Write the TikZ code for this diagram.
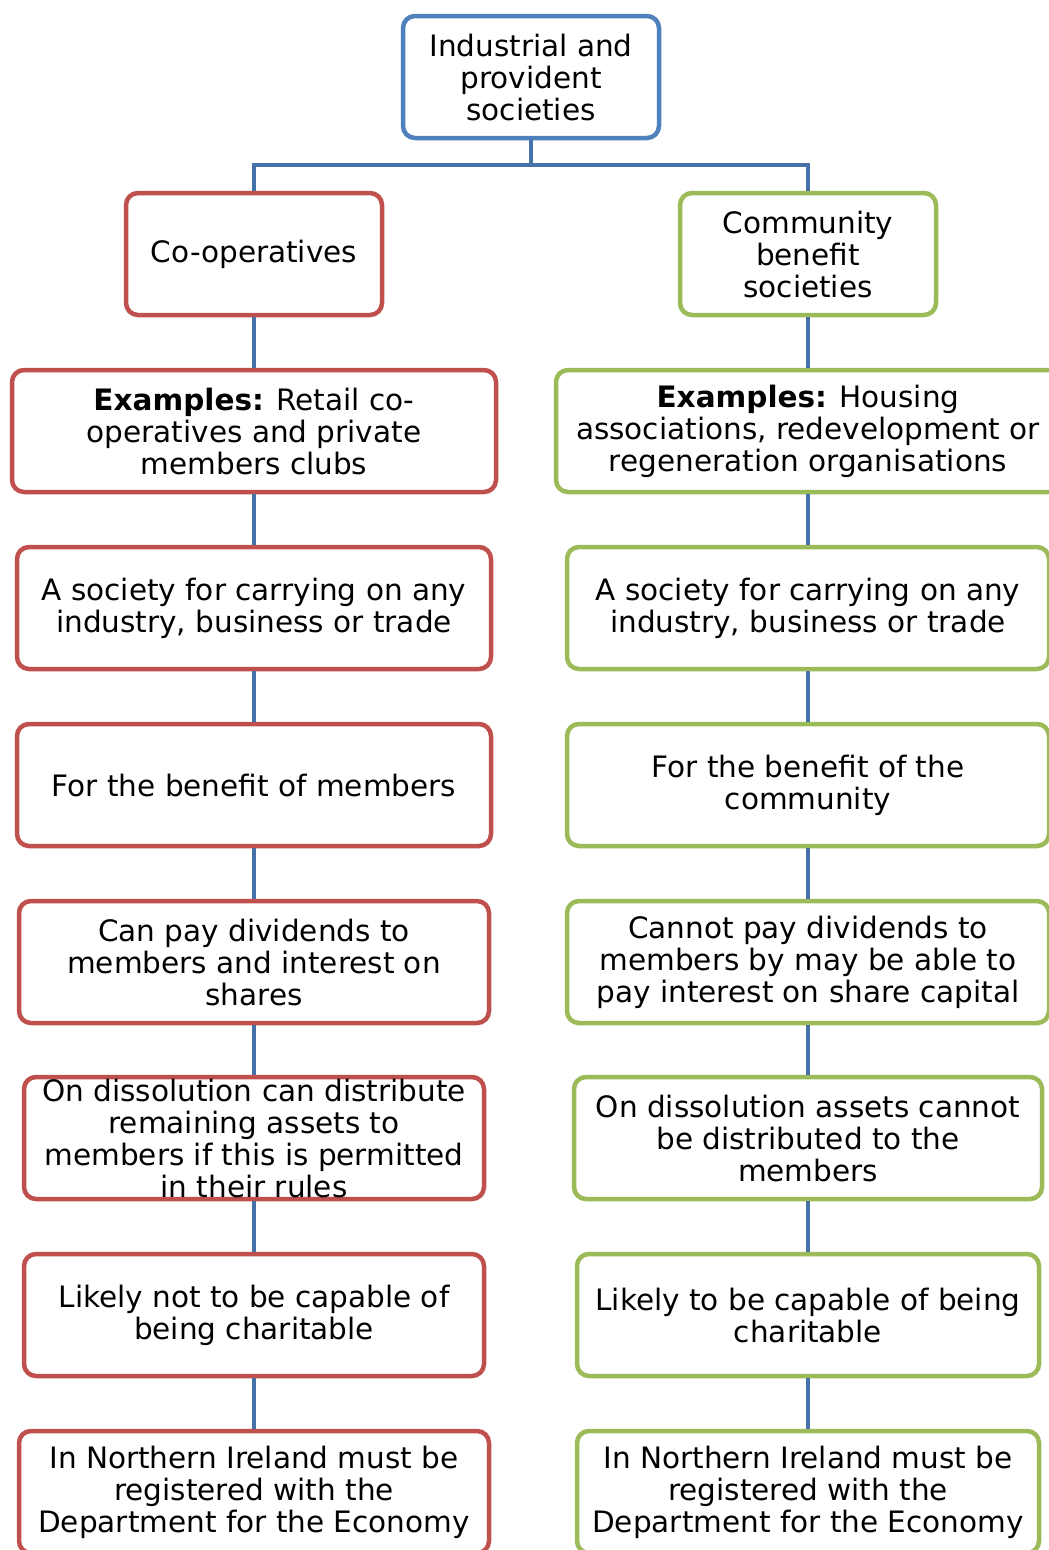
\documentclass[tikz,border=0pt]{standalone}
\usepackage{fontspec}
\setmainfont{DejaVu Sans}
\definecolor{topblue}{HTML}{4F81BD}
\definecolor{linkblue}{HTML}{4672A8}
\definecolor{coopred}{HTML}{C0504D}
\definecolor{cbsgreen}{HTML}{9BBB59}
\tikzset{
  box/.style={rectangle, rounded corners=12pt, line width=4.5pt, fill=white,
    align=center, inner sep=0pt, font=\fontsize{29.5}{32}\selectfont,
    minimum height=122pt},
  link/.style={draw=linkblue, line width=4.5pt},
}
\begin{document}
\begin{tikzpicture}[x=1pt,y=-1pt]
\clip (0,0) rectangle (1049,1550);
\fill[white] (0,0) rectangle (1049,1550);

% root
\node[box, draw=topblue, minimum width=256pt] (top) at (531,77) {Industrial and\\provident\\societies};

% co-operatives column
\node[box, draw=coopred, minimum width=256pt] (l1) at (254,254) {Co-operatives};
\node[box, draw=coopred, minimum width=484pt] (l2) at (254,431) {\textbf{Examples:} Retail co-\\operatives and private\\members clubs};
\node[box, draw=coopred, minimum width=474pt] (l3) at (254,608) {A society for carrying on any\\industry, business or trade};
\node[box, draw=coopred, minimum width=474pt] (l4) at (254,785) {For the benefit of members};
\node[box, draw=coopred, minimum width=470pt] (l5) at (254,962) {Can pay dividends to\\members and interest on\\shares};
\node[box, draw=coopred, minimum width=460pt] (l6) at (254,1138) {On dissolution can distribute\\remaining assets to\\members if this is permitted\\in their rules};
\node[box, draw=coopred, minimum width=460pt] (l7) at (254,1315) {Likely not to be capable of\\being charitable};
\node[box, draw=coopred, minimum width=470pt] (l8) at (254,1492) {In Northern Ireland must be\\registered with the\\Department for the Economy};

% community benefit column
\node[box, draw=cbsgreen, minimum width=256pt] (r1) at (808,254) {Community\\benefit\\societies};
\node[box, draw=cbsgreen, minimum width=504pt] (r2) at (808,431) {\textbf{Examples:} Housing\\associations, redevelopment or\\regeneration organisations};
\node[box, draw=cbsgreen, minimum width=482pt] (r3) at (808,608) {A society for carrying on any\\industry, business or trade};
\node[box, draw=cbsgreen, minimum width=482pt] (r4) at (808,785) {For the benefit of the\\community};
\node[box, draw=cbsgreen, minimum width=482pt] (r5) at (808,962) {Cannot pay dividends to\\members by may be able to\\pay interest on share capital};
\node[box, draw=cbsgreen, minimum width=468pt] (r6) at (808,1138) {On dissolution assets cannot\\be distributed to the\\members};
\node[box, draw=cbsgreen, minimum width=462pt] (r7) at (808,1315) {Likely to be capable of being\\charitable};
\node[box, draw=cbsgreen, minimum width=462pt] (r8) at (808,1492) {In Northern Ireland must be\\registered with the\\Department for the Economy};

% connectors
\coordinate (bus) at (531,165);
\draw[link] (top.south) -- (bus) -| (l1.north);
\draw[link] (bus) -| (r1.north);
\foreach \a/\b in {l1/l2,l2/l3,l3/l4,l4/l5,l5/l6,l6/l7,l7/l8,
                   r1/r2,r2/r3,r3/r4,r4/r5,r5/r6,r6/r7,r7/r8}
  \draw[link] (\a.south) -- (\b.north);
\end{tikzpicture}
\end{document}
